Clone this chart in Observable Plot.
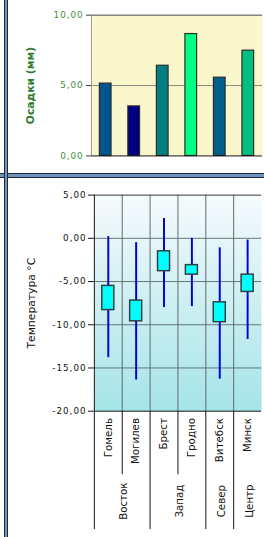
<!DOCTYPE html>
<html><head><meta charset="utf-8">
<script src="https://cdn.jsdelivr.net/npm/d3@7"></script>
<script src="https://cdn.jsdelivr.net/npm/@observablehq/plot@0.6"></script>
<style>
html,body{margin:0;padding:0;background:#fff;}
body{width:264px;height:537px;overflow:hidden;position:relative;font-family:"DejaVu Sans",sans-serif;}
#top,#bot{position:absolute;left:0;}
#top{top:0}
#bot{top:178px}
.vbar{position:absolute;left:4px;top:0;width:2px;height:537px;background:#6d93bd;border-left:1px solid #1e2a3a;border-right:1px solid #1e2a3a;}
.hbar{position:absolute;left:0;top:173px;width:264px;height:3px;background:#6d93bd;border-top:1px solid #1e2a3a;border-bottom:1px solid #1e2a3a;}
g[aria-label="y-axis tick label"] text{letter-spacing:1px;}
</style></head><body>
<div id="top"></div><div id="bot"></div><div class="hbar"></div><div class="vbar"></div>
<script>
// Data
const categories = ["Гомель", "Могилев", "Брест", "Гродно", "Витебск", "Минск"];
const groups = ["Восток", "Восток", "Запад", "Запад", "Север", "Центр"];
const precip = [5.14, 3.52, 6.41, 8.66, 5.56, 7.48];
const tMax = [0.2, -0.5, 2.3, 0.0, -1.1, -0.2];
const tMin = [-13.8, -16.4, -8.0, -7.9, -16.3, -11.7];
const boxHigh = [-5.5, -7.2, -1.5, -3.1, -7.4, -4.2];
const boxLow = [-8.3, -9.6, -3.8, -4.2, -9.7, -6.2];
const precipTicks = [0, 5, 10];
const tempTicks = [-20, -15, -10, -5, 0, 5];
const precipLabel = "Осадки (мм)";
const tempLabel = "Температура °C";

// Styles
const barColors = ["#00558c", "#000080", "#008080", "#00ff80", "#005f88", "#00bf80"];

const n = categories.length;
const idx = d3.range(n);
const fmt = d => d.toFixed(2).replace(".", ",");

const topPlot = Plot.plot({
  width: 270, height: 172,
  marginLeft: 93, marginRight: 2, marginTop: 15, marginBottom: 13,
  style: {fontFamily: "DejaVu Sans", fontSize: "9px", background: "transparent", overflow: "visible"},
  x: {type: "linear", domain: [0, n], axis: null},
  y: {domain: [0, 10], axis: null},
  color: {type: "identity"},
  marks: [
    Plot.frame({fill: "#faf7cd"}),
    Plot.ruleY([5], {stroke: "#8a8a80"}),
    Plot.ruleY([10], {stroke: "#444"}),
    Plot.ruleX([0], {stroke: "#999"}),
    Plot.rectY(idx, {x1: i => i, x2: i => i + 1, y1: 0, y2: i => precip[i], fill: i => barColors[i],
      stroke: "#2b2b2b", strokeWidth: 1.2, insetLeft: 8.6, insetRight: 8.6}),
    Plot.ruleY([0], {stroke: "#111"}),
    Plot.axisY({ticks: precipTicks, tickFormat: fmt, tickSize: 5, tickPadding: 3, fill: "#3d8d3d", stroke: "#333"}),
    Plot.text([precipLabel], {frameAnchor: "left", textAnchor: "middle", dx: -62, rotate: -90, fill: "#2e7d2e", fontWeight: "bold", fontSize: 11})
  ]
});
document.getElementById("top").append(topPlot);

// group spans
const groupNames = [...new Set(groups)];
const groupCenter = g => d3.mean(idx.filter(i => groups[i] === g), i => i + 0.5);
const groupBounds = idx.filter(i => i === 0 || groups[i] !== groups[i - 1]);
const innerBounds = idx.filter(i => i > 0 && groups[i] === groups[i - 1]);

const botPlot = Plot.plot({
  width: 270, height: 359,
  marginLeft: 96, marginRight: 3, marginTop: 17, marginBottom: 121,
  style: {fontFamily: "DejaVu Sans", fontSize: "9px", background: "transparent", overflow: "visible"},
  x: {type: "linear", domain: [0, n], axis: null},
  y: {domain: [-20, 5], axis: null},
  marks: [
    Plot.frame({fill: "url(#tgrad)"}),
    Plot.ruleY([-15, -10, -5, 0], {stroke: "#4f5f5f", strokeOpacity: 0.85}),
    Plot.ruleX(d3.range(1, n), {stroke: "#606868"}),
    Plot.ruleY([5], {stroke: "#333"}),
    Plot.ruleX(idx, {x: i => i + 0.5, y1: i => tMin[i], y2: i => tMax[i], stroke: "#0000d8", strokeWidth: 2}),
    Plot.rectY(idx, {x1: i => i, x2: i => i + 1, y1: i => boxLow[i], y2: i => boxHigh[i], fill: "#00ffff",
      stroke: "#2f3f3f", strokeWidth: 1.5, insetLeft: 8.1, insetRight: 8.1}),
    Plot.ruleY([-20], {stroke: "#111"}),
    Plot.ruleX([0], {y1: 5, y2: -20, stroke: "#111"}),
    Plot.ruleX(groupBounds, {y1: -20, y2: -20, insetBottom: -121, stroke: "#111"}),
    Plot.ruleX(innerBounds, {y1: -20, y2: -20, insetBottom: -65, stroke: "#111"}),
    Plot.axisY({ticks: tempTicks, tickFormat: fmt, tickSize: 6, tickPadding: 2, fill: "#111", stroke: "#111"}),
    Plot.text(idx, {x: i => i + 0.5, y: -20, text: i => categories[i], rotate: -90, textAnchor: "end", dy: 7,
      fontSize: 10.5, fill: "#111"}),
    Plot.text(groupNames, {x: g => groupCenter(g), y: -20, text: g => g, rotate: -90, textAnchor: "middle", dy: 92, dx: 2,
      fontSize: 10.5, fill: "#111"}),
    Plot.text([tempLabel], {frameAnchor: "left", textAnchor: "middle", dx: -64, rotate: -90, fill: "#111", fontSize: 11})
  ]
});
const defs = d3.select(botPlot).insert("defs", ":first-child");
const grad = defs.append("linearGradient").attr("id", "tgrad").attr("x1", 0).attr("y1", 0).attr("x2", 0).attr("y2", 1);
grad.append("stop").attr("offset", "0%").attr("stop-color", "#f6fafd");
grad.append("stop").attr("offset", "100%").attr("stop-color", "#a4e4e8");
document.getElementById("bot").append(botPlot);
</script>
</body></html>
